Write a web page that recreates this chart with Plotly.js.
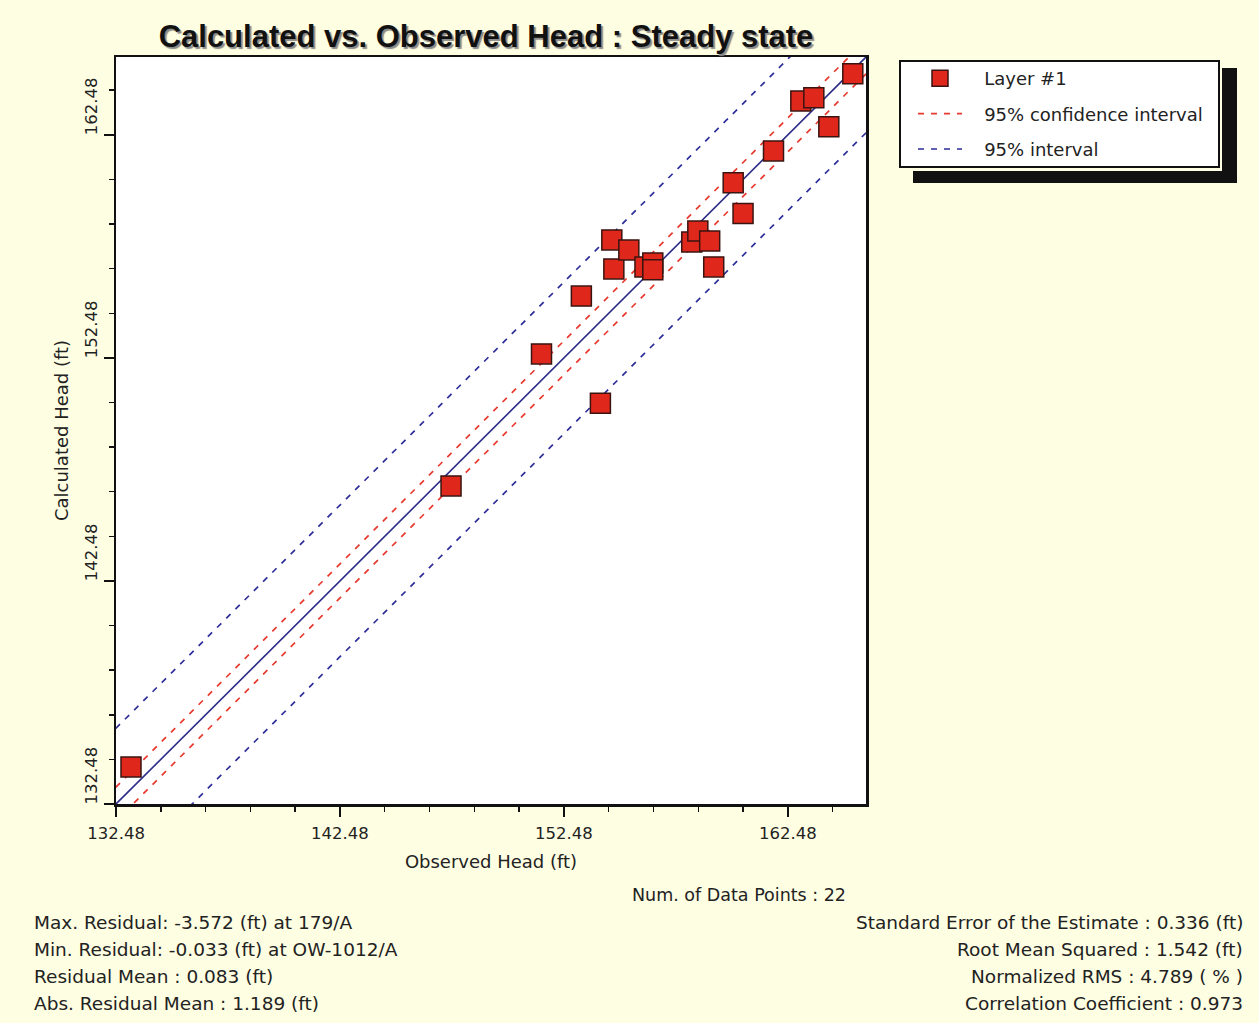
<!DOCTYPE html>
<html>
<head>
<meta charset="utf-8">
<script src="https://cdn.plot.ly/plotly-3.0.1.min.js"></script>
<style>html,body{margin:0;padding:0;background:#FEFEE2;}#chart{width:1259px;height:1023px;}</style>
</head>
<body>
<div id="chart"></div>
<script>
// ---- data ----
var observedHead = [133.15, 147.44, 151.48, 154.11, 153.26, 154.62, 154.71, 155.38, 156.10, 156.45, 156.45,
                    158.19, 158.46, 158.99, 159.17, 160.48, 160.04, 161.84, 163.06, 163.64, 164.31, 165.38];
var calculatedHead = [134.14, 146.74, 152.66, 150.45, 155.25, 157.77, 156.47, 157.32, 156.56, 156.74, 156.43,
                      157.68, 158.17, 157.72, 156.56, 158.95, 160.33, 161.76, 164.00, 164.14, 162.84, 165.22];
var lineX = [130.0, 168.0];
var lineOneToOne = [130.0, 168.0];
var confUpper = [130.76, 168.76];
var confLower = [129.24, 167.24];
var predUpper = [133.40, 171.40];
var predLower = [126.60, 164.60];
var tickVals = [132.48, 142.48, 152.48, 162.48];
var tickText = ['132.48', '142.48', '152.48', '162.48'];
var statsLeft = ['Max. Residual: -3.572 (ft) at 179/A', 'Min. Residual: -0.033 (ft) at OW-1012/A',
                 'Residual Mean : 0.083 (ft)', 'Abs. Residual Mean : 1.189 (ft)'];
var statsRight = ['Standard Error of the Estimate : 0.336 (ft)', 'Root Mean Squared : 1.542 (ft)',
                  'Normalized RMS : 4.789 ( % )', 'Correlation Coefficient : 0.973'];
var numPointsText = 'Num. of Data Points : 22';

// ---- layout helpers (pixel -> paper) ----
var L = 116, R = 866, T = 57, B = 804, W = 1259, H = 1023;
function px(x) { return (x - L) / (R - L); }
function py(y) { return (B - y) / (B - T); }

var FONT = 'DejaVu Sans, Verdana, sans-serif';
var BG = '#FEFEE2';
var PAD = '\u00a0\u00a0\u00a0';

var traces = [
  {x: lineX, y: confUpper, mode: 'lines', name: PAD + '95% confidence interval', legendgroup: 'b',
   line: {color: '#E8392F', width: 1.7, dash: '6px,7px'}},
  {x: lineX, y: confLower, mode: 'lines', name: '95% confidence interval', legendgroup: 'b', showlegend: false,
   line: {color: '#E8392F', width: 1.7, dash: '6px,7px'}},
  {x: lineX, y: predUpper, mode: 'lines', name: PAD + '95% interval', legendgroup: 'c',
   line: {color: '#2E2E9A', width: 1.7, dash: '6px,7px'}},
  {x: lineX, y: predLower, mode: 'lines', name: '95% interval', legendgroup: 'c', showlegend: false,
   line: {color: '#2E2E9A', width: 1.7, dash: '6px,7px'}},
  {x: lineX, y: lineOneToOne, mode: 'lines', name: '1:1', showlegend: false,
   line: {color: '#2B2B88', width: 1.6}},
  {x: observedHead, y: calculatedHead, mode: 'markers', type: 'scatter', name: PAD + 'Layer #1', legendgroup: 'a',
   legendrank: 1,
   marker: {symbol: 'square', size: 20, color: '#E0271C', line: {color: '#3A1410', width: 1.5}}}
];
traces[0].legendrank = 2; traces[2].legendrank = 3;

var annotations = [];
var statFont = {family: FONT, size: 18.5, color: '#222'};
annotations.push({xref: 'paper', yref: 'paper', x: px(630), y: py(895), xanchor: 'left', yanchor: 'middle',
  text: numPointsText, showarrow: false, font: {family: FONT, size: 17.5, color: '#222'}});
var rowsY = [922, 949, 976, 1003];
for (var i = 0; i < statsLeft.length; i++) {
  annotations.push({xref: 'paper', yref: 'paper', x: px(32), y: py(rowsY[i]), xanchor: 'left', yanchor: 'middle',
    text: statsLeft[i], showarrow: false, font: statFont});
  annotations.push({xref: 'paper', yref: 'paper', x: px(1245), y: py(rowsY[i]), xanchor: 'right', yanchor: 'middle',
    text: statsRight[i], showarrow: false, font: statFont});
}

var shapes = [
  {type: 'rect', xref: 'paper', yref: 'paper', x0: px(913), x1: px(1237), y0: py(68), y1: py(183),
   fillcolor: '#111', line: {width: 0}},
  {type: 'rect', xref: 'paper', yref: 'paper', x0: px(898), x1: px(1222), y0: py(59), y1: py(171),
   fillcolor: BG, line: {width: 0}},
  {type: 'rect', xref: 'paper', yref: 'paper', x0: px(900), x1: px(1219), y0: py(61), y1: py(167),
   fillcolor: '#FFFFFF', line: {color: '#111', width: 2}}
];

var axisCommon = {
  range: [132.48, 165.97], autorange: false, tickvals: tickVals, ticktext: tickText,
  ticks: 'outside', ticklen: 10, tickwidth: 2, tickcolor: '#111',
  minor: {tick0: 132.48, dtick: 2, ticks: 'outside', ticklen: 5, tickwidth: 1.5, tickcolor: '#111', showgrid: false},
  showline: true, linecolor: '#111', linewidth: 2.5, mirror: true, showgrid: false, zeroline: false,
  tickfont: {family: FONT, size: 16.5, color: '#222'}, automargin: false
};

var layout = {
  width: W, height: H,
  margin: {l: L, r: W - R, t: T, b: H - B, pad: 0},
  paper_bgcolor: BG, plot_bgcolor: '#FFFFFF',
  title: {text: 'Calculated vs. Observed Head : Steady state', x: px(486), xref: 'paper', xanchor: 'center',
          y: 1 - 36 / H, yref: 'container', yanchor: 'middle',
          font: {family: 'Liberation Sans, Arial, sans-serif', size: 31, weight: 'bold', color: '#111',
                 shadow: '2px 2px 1px #8a8a8a'}},
  xaxis: Object.assign({}, axisCommon, {
    ticklabelstandoff: 3,
    title: {text: 'Observed Head (ft)', standoff: 13, font: {family: FONT, size: 18, color: '#222'}}
  }),
  yaxis: Object.assign({}, axisCommon, {
    tickangle: -90, ticklabelshift: -26,
    title: {text: 'Calculated Head (ft)', standoff: 9, font: {family: FONT, size: 18, color: '#222'}}
  }),
  showlegend: true,
  legend: {x: px(913), y: py(60), xanchor: 'left', yanchor: 'top', bgcolor: 'rgba(0,0,0,0)', borderwidth: 0,
           font: {family: FONT, size: 18, color: '#222'}, traceorder: 'grouped', tracegroupgap: 9, itemwidth: 44},
  annotations: annotations,
  shapes: shapes
};

Plotly.newPlot('chart', traces, layout, {displayModeBar: false, staticPlot: true});
</script>
</body>
</html>
